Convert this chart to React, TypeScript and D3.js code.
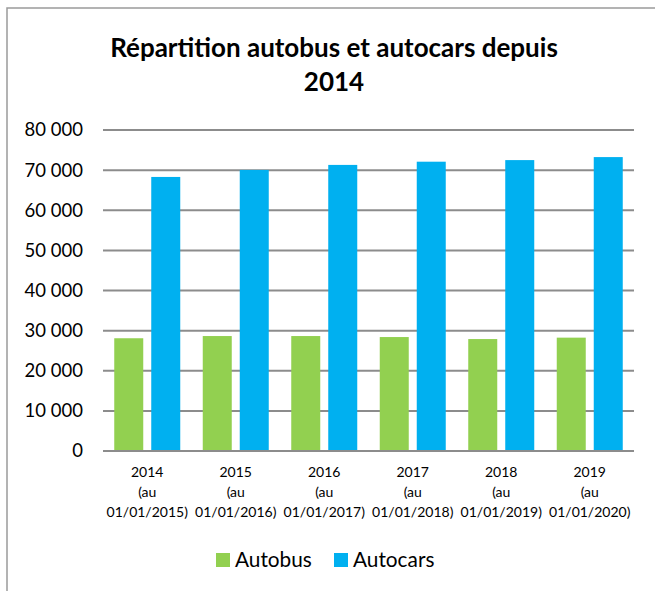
import React from "react";
import * as d3 from "d3";

const categories = ["2014", "2015", "2016", "2017", "2018", "2019"];
const categoryDates = ["01/01/2015)", "01/01/2016)", "01/01/2017)", "01/01/2018)", "01/01/2019)", "01/01/2020)"];
const seriesNames = ["Autobus", "Autocars"];
const autobus = [28100, 28650, 28650, 28400, 27900, 28250];
const autocars = [68300, 70050, 71300, 72100, 72500, 73250];
const yTicks = [0, 10000, 20000, 30000, 40000, 50000, 60000, 70000, 80000];
const colors = ["#92D050", "#00B0F0"];

const W = 655;
const H = 591;
const left = 103;
const right = 634;
const top = 130;
const bottom = 451;
const font = "Lato, 'Open Sans', sans-serif";

export default function App() {
  const x0 = d3.scaleBand<string>().domain(categories).range([left, right]).padding(0);
  const bw = x0.bandwidth();
  const x1 = d3
    .scaleBand<string>()
    .domain(seriesNames)
    .range([bw / 2 - 33, bw / 2 + 33])
    .paddingInner(8 / 37)
    .paddingOuter(0);
  const y = d3.scaleLinear().domain([0, 80000]).range([bottom, top]);
  const fmt = (v: number) => d3.format(",")(v).replace(/,/g, " ");
  const data = [autobus, autocars];

  return (
    <svg
      width={W}
      height={H}
      style={{ position: "absolute", left: 0, top: 0, background: "#fff" }}
      fontFamily={font}
    >
      <rect x={7} y={8} width={W + 10} height={H + 10} fill="#fff" stroke="#9a9a9a" strokeWidth={1.5} />
      <text x={334} y={57} textAnchor="middle" fontWeight="bold" fontSize={26} fill="#000">
        Répartition autobus et autocars depuis
      </text>
      <text x={334} y={91} textAnchor="middle" fontWeight="bold" fontSize={26} fill="#000">
        2014
      </text>
      {yTicks.map((t) => (
        <g key={t}>
          <line x1={left} x2={right} y1={y(t)} y2={y(t)} stroke="#8c8c8c" strokeWidth={2} />
          <text x={83} y={y(t)} dy="0.35em" textAnchor="end" fontSize={18.5} fill="#000">
            {fmt(t)}
          </text>
        </g>
      ))}
      {categories.map((c, i) => (
        <g key={c} transform={`translate(${x0(c)},0)`}>
          {seriesNames.map((s, j) => (
            <rect
              key={s}
              x={x1(s)}
              y={y(data[j][i])}
              width={x1.bandwidth()}
              height={y(0) - y(data[j][i])}
              fill={colors[j]}
            />
          ))}
          <text x={bw / 2} y={477} textAnchor="middle" fontSize={14} fill="#000">
            {c}
          </text>
          <text x={bw / 2} y={497} textAnchor="middle" fontSize={14} fill="#000">
            (au
          </text>
          <text x={bw / 2} y={517} textAnchor="middle" fontSize={14} fill="#000">
            {categoryDates[i]}
          </text>
        </g>
      ))}
      <line x1={left} x2={right} y1={y(0)} y2={y(0)} stroke="#8c8c8c" strokeWidth={2} />
      <g>
        <rect x={216} y={553} width={14} height={14} fill={colors[0]} />
        <text x={235} y={560} dy="0.35em" fontSize={20.8} fill="#000">
          {seriesNames[0]}
        </text>
        <rect x={334} y={553} width={14} height={14} fill={colors[1]} />
        <text x={353} y={560} dy="0.35em" fontSize={20.8} fill="#000">
          {seriesNames[1]}
        </text>
      </g>
    </svg>
  );
}
